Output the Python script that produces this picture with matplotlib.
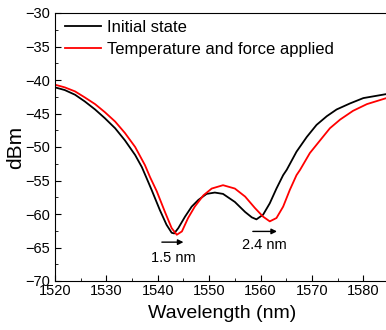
import matplotlib
matplotlib.use("Agg")
import matplotlib.pyplot as plt
from matplotlib.ticker import MultipleLocator

plt.rcParams['font.family'] = ['Liberation Sans', 'DejaVu Sans']

# values
wl_init = [1520, 1521.9, 1523.9, 1525.8, 1527.8, 1529.7, 1531.7, 1533.6,
           1535.6, 1536.9, 1537.8, 1538.8, 1540.4, 1541.7, 1542.7, 1543.2,
           1544.0, 1545.3, 1546.6, 1547.9, 1549.5, 1551.1, 1552.7, 1555.0,
           1557.0, 1558.3, 1559.2, 1560.5, 1561.8, 1563.1, 1564.4, 1565.1,
           1567.0, 1569.0, 1570.9, 1572.9, 1574.8, 1577.4, 1580.0, 1584.5]
db_init = [-41.1, -41.5, -42.2, -43.2, -44.4, -45.7, -47.2, -49.0,
           -51.2, -53.0, -54.6, -56.4, -59.4, -61.6, -62.8, -62.9,
           -62.1, -60.4, -58.9, -57.9, -57.0, -56.8, -57.0, -58.2,
           -59.7, -60.5, -60.8, -60.1, -58.4, -56.2, -54.2, -53.4,
           -50.7, -48.5, -46.7, -45.4, -44.4, -43.5, -42.7, -42.1]

wl_temp = [1520, 1521.9, 1523.9, 1525.8, 1527.8, 1529.7, 1531.7, 1533.6,
           1535.6, 1537.5, 1538.5, 1539.8, 1541.4, 1542.7, 1543.7, 1544.7,
           1545.9, 1547.2, 1548.9, 1550.5, 1552.7, 1555.0, 1557.0, 1558.9,
           1560.5, 1561.8, 1563.1, 1564.4, 1565.7, 1567.0, 1567.7, 1569.6,
           1571.6, 1573.5, 1575.5, 1578.0, 1580.7, 1584.5]
db_temp = [-40.7, -41.1, -41.7, -42.6, -43.6, -44.8, -46.2, -47.9,
           -50.0, -52.7, -54.5, -56.6, -59.7, -62.1, -63.1, -62.6,
           -60.6, -58.9, -57.2, -56.2, -55.7, -56.2, -57.4, -59.1,
           -60.4, -61.1, -60.6, -58.9, -56.4, -54.2, -53.4, -50.9,
           -49.0, -47.2, -45.9, -44.6, -43.6, -42.7]

labels = ['Initial state', 'Temperature and force applied']
shift_labels = ['1.5 nm', '2.4 nm']
shift_from = [(1540.8, -64.2), (1558.5, -62.6)]
shift_to = [(1545.0, -64.2), (1563.2, -62.6)]
shift_text = [(1543.0, -66.5), (1560.8, -64.7)]

fig = plt.figure(figsize=(3.86, 3.30), dpi=100)
ax = fig.add_axes([55 / 386, 49 / 330, 334 / 386, 268 / 330])

ax.plot(wl_init, db_init, color='black', lw=1.3, label=labels[0])
ax.plot(wl_temp, db_temp, color='red', lw=1.3, label=labels[1])

for lab, p0, p1, pt in zip(shift_labels, shift_from, shift_to, shift_text):
    ax.annotate('', xy=p1, xytext=p0,
                arrowprops=dict(arrowstyle='-|>', color='black', lw=1.0,
                                mutation_scale=8, shrinkA=0, shrinkB=0))
    ax.text(pt[0], pt[1], lab, ha='center', va='center', fontsize=10.5)

ax.set_xlim(1520, 1585)
ax.set_ylim(-70, -30)
ax.xaxis.set_major_locator(MultipleLocator(10))
ax.xaxis.set_minor_locator(MultipleLocator(5))
ax.yaxis.set_major_locator(MultipleLocator(5))
ax.yaxis.set_minor_locator(MultipleLocator(2.5))
ax.tick_params(which='both', direction='in', labelsize=10.5)
ax.tick_params(axis='x', pad=2.5)
ax.tick_params(which='major', length=4)
ax.tick_params(which='minor', length=2.5)
ax.spines['right'].set_visible(False)

ax.set_xlabel('Wavelength (nm)', fontsize=14, labelpad=5)
ax.set_ylabel('dBm', fontsize=15, labelpad=0)

ax.legend(loc='upper left', bbox_to_anchor=(0.0, 1.012), frameon=False,
          fontsize=12, handlelength=2.15, handletextpad=0.38,
          borderaxespad=0.3, borderpad=0.3, labelspacing=0.42)

fig.savefig('out.png', dpi=100)
